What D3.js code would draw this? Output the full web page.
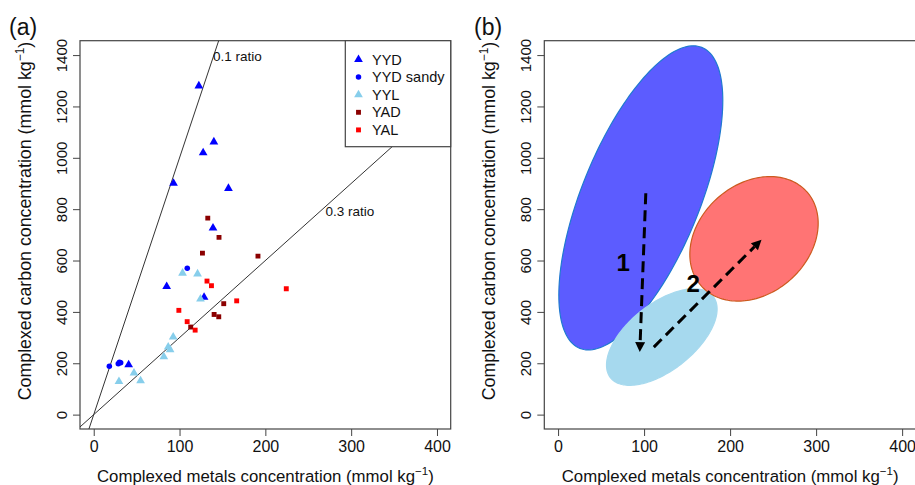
<!DOCTYPE html>
<html>
<head>
<meta charset="utf-8">
<script src="https://cdn.jsdelivr.net/npm/d3@7"></script>
<style>
html,body{margin:0;padding:0;background:#fff;}
svg{display:block;font-family:"Liberation Sans",Arial,sans-serif;}
</style>
</head>
<body>
<svg id="chart" width="915" height="485"></svg>
<script>
// ---------------- DATA ----------------
const xTicks = [0, 100, 200, 300, 400];
const yTicks = [0, 200, 400, 600, 800, 1000, 1200, 1400];

// panel (a) points [metals, carbon]
const YYD = [[122.5,1280],[140,1062],[127.5,1020],[93,901],[157,881],[139,727],[85,499],[128.6,457],[40.7,194]];
const YYD_sandy = [[109,570],[18.2,188],[28.6,198],[31.4,202],[30,204]];
const YYL = [[103.5,551],[121,548],[124.4,450],[92.6,302],[86.8,263],[89,253],[81.7,225],[46.9,162],[54.6,132],[29.4,129]];
const YAD = [[132.9,765],[146,690],[126.7,629],[191.4,617],[151.5,432],[140.3,390],[145.7,381],[113,341]];
const YAL = [[132,520],[137.2,502],[224.4,490],[166.6,443],[99.2,406],[108.9,362],[118.2,329]];
const seriesNames = ["YYD", "YYD sandy", "YYL", "YAD", "YAL"];
const seriesData = [YYD, YYD_sandy, YYL, YAD, YAL];

// ratio reference lines (carbon = slope * metals)
const ratioSlopes = [10, 3];
const ratioLabels = ["0.1 ratio", "0.3 ratio"];
const ratioLabelAt = [[139, 1394], [270, 792]];

// panel (b) ellipses: centre, half extents, correlation
const ellipseNames = ["YYD", "YYL", "YA"];
const ellipseCx = [96.2, 120.6, 227.8];
const ellipseCy = [844, 302, 684.5];
const ellipseRx = [95.3, 64.3, 74.6];
const ellipseRy = [592, 188, 242.5];
const ellipseRho = [0.64, 0.58, 0.25];

// panel (b) arrows [from, to] and labels
const arrows = [[[102, 862], [95, 243.5]], [[111.3, 263], [236.5, 681]]];
const arrowLabels = ["1", "2"];
const arrowLabelAt = [[75.6, 594], [157, 509]];

// ---------------- STYLE / LAYOUT ----------------
const seriesStyle = [
  {sym: d3.symbolTriangle, size: 33, color: "#0000ff"},
  {sym: d3.symbolCircle, size: 24, color: "#0000ff"},
  {sym: d3.symbolTriangle, size: 33, color: "#87ceeb"},
  {sym: d3.symbolSquare, size: 24, color: "#8b0000"},
  {sym: d3.symbolSquare, size: 24, color: "#ff0000"}
];
const ellipseStyle = [
  {fill: "#5c5cff", stroke: "#1f7ad0"},
  {fill: "#a6d9ee", stroke: "#a6d9ee"},
  {fill: "#ff7474", stroke: "#cc5a1e"}
];

const svg = d3.select("#chart");
svg.append("rect").attr("width", 915).attr("height", 485).attr("fill", "#fff");

const xDom = [-16, 416], yDom = [-56, 1456];
const plotTop = 40.7, plotBottom = 429;
const panels = [
  {left: 80, right: 450.7, label: "(a)", labelX: 9},
  {left: 544.3, right: 915.9, label: "(b)", labelX: 474}
];

const axisColor = "#444";

function drawFrame(p, i) {
  const g = svg.append("g");
  const x = d3.scaleLinear().domain(xDom).range([p.left, p.right]);
  const y = d3.scaleLinear().domain(yDom).range([plotBottom, plotTop]);
  p.x = x; p.y = y; p.g = g;

  const clipId = "clip" + i;
  svg.append("clipPath").attr("id", clipId).append("rect")
    .attr("x", p.left).attr("y", plotTop).attr("width", p.right - p.left).attr("height", plotBottom - plotTop);
  p.clip = "url(#" + clipId + ")";

  // x axis
  const xa = g.append("g").attr("transform", `translate(0,${plotBottom})`)
    .call(d3.axisBottom(x).tickValues(xTicks).tickSize(7).tickPadding(5).tickFormat(d3.format("d")));
  xa.select(".domain").remove();
  xa.selectAll("line").attr("stroke", axisColor);
  xa.selectAll("text").attr("font-size", 16).attr("fill", "#111").attr("font-family", "Liberation Sans, Arial, sans-serif");

  // y axis
  const ya = g.append("g").attr("transform", `translate(${p.left},0)`)
    .call(d3.axisLeft(y).tickValues(yTicks).tickSize(7).tickPadding(0).tickFormat(d3.format("d")));
  ya.select(".domain").remove();
  ya.selectAll("line").attr("stroke", axisColor);
  ya.selectAll("text")
    .attr("font-size", 15).attr("fill", "#111").attr("font-family", "Liberation Sans, Arial, sans-serif")
    .attr("text-anchor", "middle").attr("dy", null).attr("x", null)
    .attr("transform", "translate(-19,0) rotate(-90)")
    .attr("dominant-baseline", "central");

  // box
  g.append("rect").attr("x", p.left).attr("y", plotTop)
    .attr("width", p.right - p.left).attr("height", plotBottom - plotTop)
    .attr("fill", "none").attr("stroke", axisColor).attr("stroke-width", 1.2);

  // axis titles
  const xt = g.append("text").attr("x", (p.left + p.right) / 2)
    .attr("y", 482).attr("text-anchor", "middle").attr("font-size", 16.8).attr("fill", "#111");
  xt.append("tspan").text("Complexed metals concentration (mmol kg");
  xt.append("tspan").attr("dy", -7).attr("font-size", 11.5).text("\u22121");
  xt.append("tspan").attr("dy", 7).text(")");

  const ycx = p.left - 49;
  const yt = g.append("text").attr("transform", `translate(${ycx},221) rotate(-90)`)
    .attr("text-anchor", "middle").attr("font-size", 17.8).attr("fill", "#111");
  yt.append("tspan").text("Complexed carbon concentration (mmol kg");
  yt.append("tspan").attr("dy", -7).attr("font-size", 12).text("\u22121");
  yt.append("tspan").attr("dy", 7).text(")");

  // panel label
  svg.append("text").attr("x", p.labelX).attr("y", 35).attr("font-size", 23).attr("fill", "#111").text(p.label);
}

panels.forEach(drawFrame);

// ---------------- PANEL (a) ----------------
const pa = panels[0];
const gl = pa.g.append("g").attr("clip-path", pa.clip);
ratioSlopes.forEach((s, i) => {
  gl.append("line")
    .attr("x1", pa.x(xDom[0])).attr("y1", pa.y(s * xDom[0]))
    .attr("x2", pa.x(xDom[1])).attr("y2", pa.y(s * xDom[1]))
    .attr("stroke", "#333").attr("stroke-width", 1);
  pa.g.append("text").attr("x", pa.x(ratioLabelAt[i][0])).attr("y", pa.y(ratioLabelAt[i][1]))
    .attr("dominant-baseline", "central").attr("font-size", 13.5).attr("fill", "#111").text(ratioLabels[i]);
});

seriesData.forEach((pts, i) => {
  const st = seriesStyle[i];
  gl.selectAll(null).data(pts).enter().append("path")
    .attr("d", d3.symbol().type(st.sym).size(st.size))
    .attr("transform", d => `translate(${pa.x(d[0])},${pa.y(d[1])})`)
    .attr("fill", st.color);
});

// legend
const legX = 345.3, legY = plotTop, legW = pa.right - legX, legH = 106;
const leg = pa.g.append("g");
leg.append("rect").attr("x", legX).attr("y", legY).attr("width", legW).attr("height", legH)
  .attr("fill", "#fff").attr("stroke", axisColor).attr("stroke-width", 1.2);
seriesNames.forEach((n, i) => {
  const cy = 59.5 + i * 17.6;
  const st = seriesStyle[i];
  leg.append("path").attr("d", d3.symbol().type(st.sym).size(st.size))
    .attr("transform", `translate(358.5,${cy})`).attr("fill", st.color);
  leg.append("text").attr("x", 372).attr("y", cy).attr("dominant-baseline", "central")
    .attr("font-size", 14.5).attr("fill", "#111").text(n);
});

// ---------------- PANEL (b) ----------------
const pb = panels[1];
const gr = pb.g.append("g").attr("clip-path", pb.clip);
const ellLine = d3.line().curve(d3.curveLinearClosed);
ellipseNames.forEach((n, i) => {
  const pts = d3.range(0, 2 * Math.PI, Math.PI / 90).map(t => {
    const dx = ellipseRx[i] * Math.cos(t);
    const dy = ellipseRy[i] * (ellipseRho[i] * Math.cos(t) + Math.sqrt(1 - ellipseRho[i] ** 2) * Math.sin(t));
    return [pb.x(ellipseCx[i] + dx), pb.y(ellipseCy[i] + dy)];
  });
  gr.append("path").attr("d", ellLine(pts))
    .attr("fill", ellipseStyle[i].fill).attr("stroke", ellipseStyle[i].stroke).attr("stroke-width", 1.2);
});

arrows.forEach((a, i) => {
  const x0 = pb.x(a[0][0]), y0 = pb.y(a[0][1]);
  const x1 = pb.x(a[1][0]), y1 = pb.y(a[1][1]);
  const ang = Math.atan2(y1 - y0, x1 - x0);
  const headL = 10, headW = 5;
  const bx = x1 - headL * Math.cos(ang), by = y1 - headL * Math.sin(ang);
  gr.append("line").attr("x1", x0).attr("y1", y0).attr("x2", bx).attr("y2", by)
    .attr("stroke", "#000").attr("stroke-width", 3).attr("stroke-dasharray", "11,6");
  const px = -Math.sin(ang), py = Math.cos(ang);
  gr.append("path")
    .attr("d", `M${x1},${y1}L${bx + px * headW},${by + py * headW}L${bx - px * headW},${by - py * headW}Z`)
    .attr("fill", "#000");
  gr.append("text").attr("x", pb.x(arrowLabelAt[i][0])).attr("y", pb.y(arrowLabelAt[i][1]))
    .attr("text-anchor", "middle").attr("dominant-baseline", "central")
    .attr("font-size", 24).attr("font-weight", "bold").attr("fill", "#000").text(arrowLabels[i]);
});
</script>
</body>
</html>
